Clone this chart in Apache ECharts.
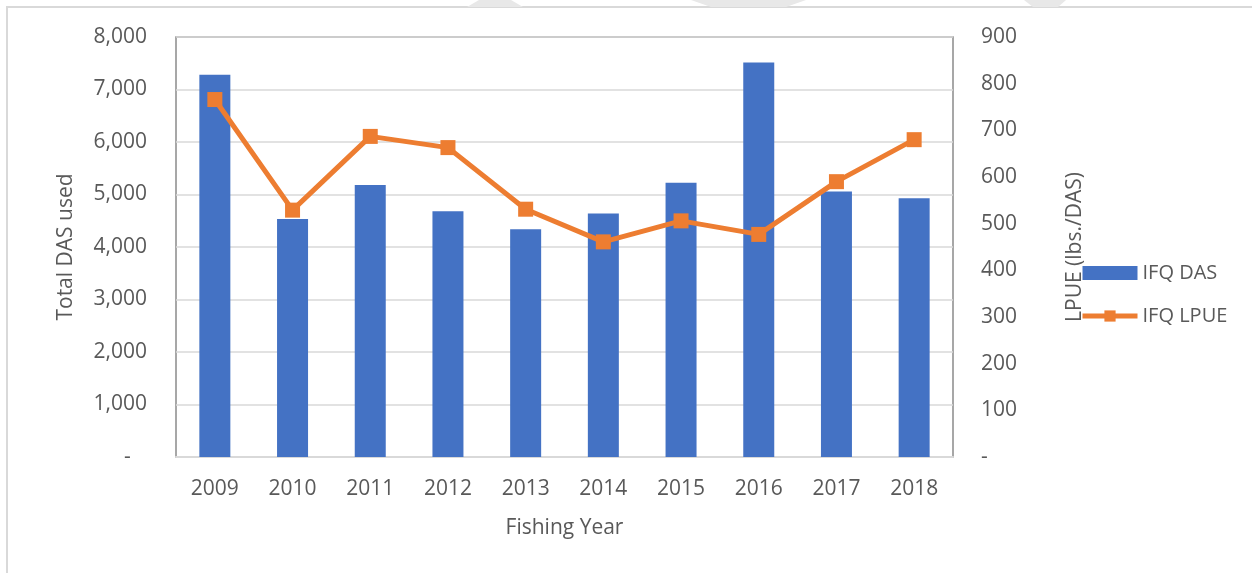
<!DOCTYPE html>
<html>
<head>
<meta charset="utf-8">
<script src="https://cdn.jsdelivr.net/npm/echarts@6/dist/echarts.min.js"></script>
<style>
  html, body { margin: 0; padding: 0; background: #fff; }
  #main { width: 1252px; height: 573px; }
</style>
</head>
<body>
<div id="main"></div>
<script>
// fishing years and the two series
var years = ['2009', '2010', '2011', '2012', '2013', '2014', '2015', '2016', '2017', '2018'];
var ifqDas = [7280, 4535, 5180, 4680, 4340, 4640, 5225, 7515, 5055, 4930];
var ifqLpue = [766, 529, 687, 663, 531, 461, 506, 477, 590, 680];

var labelColor = '#595959';
var fontName = '"Open Sans", "Noto Sans", sans-serif';

var chart = echarts.init(document.getElementById('main'));

var option = {
    backgroundColor: '#fff',
    textStyle: {fontFamily: fontName},
    animation: false,
    grid: {left: 176, right: 299, top: 37, bottom: 116, show: true, borderColor: '#8a8a8a', borderWidth: 1.5},
    legend: {
        orient: 'vertical', left: 1080, top: 263, itemGap: 23, padding: 0,
        itemWidth: 55, itemHeight: 14,
        textStyle: {color: labelColor, fontSize: 20, fontFamily: fontName},
        data: [
            {name: 'IFQ DAS', icon: 'rect'},
            {name: 'IFQ LPUE', lineStyle: {width: 5}}
        ]
    },
    xAxis: {
        type: 'category', data: years,
        name: 'Fishing Year', nameLocation: 'middle', nameGap: 61, nameMoveOverlap: false,
        nameTextStyle: {color: labelColor, fontSize: 21},
        axisLine: {lineStyle: {color: '#d9d9d9', width: 2}},
        axisTick: {show: false},
        axisLabel: {color: labelColor, fontSize: 21, margin: 22}
    },
    yAxis: [{
        type: 'value', min: 0, max: 8000, interval: 1000,
        name: 'Total DAS used', nameLocation: 'middle', nameGap: 99, nameMoveOverlap: false,
        nameTextStyle: {color: labelColor, fontSize: 21},
        axisLine: {show: false}, axisTick: {show: false},
        axisLabel: {
            color: labelColor, fontSize: 21, margin: 29,
            formatter: function (v) { return v === 0 ? '-   ' : v.toLocaleString('en-US'); }
        },
        splitLine: {lineStyle: {color: '#d9d9d9', width: 1.5}}
    }, {
        type: 'value', min: 0, max: 900, interval: 100,
        name: 'LPUE (lbs./DAS)', nameLocation: 'middle', nameGap: 112, nameMoveOverlap: false,
        nameTextStyle: {color: labelColor, fontSize: 21},
        axisLine: {show: false}, axisTick: {show: false},
        axisLabel: {
            color: labelColor, fontSize: 21, margin: 28,
            formatter: function (v) { return v === 0 ? '-' : String(v); }
        },
        splitLine: {show: false}
    }],
    series: [{
        name: 'IFQ DAS', type: 'bar', yAxisIndex: 0, barWidth: 31,
        itemStyle: {color: '#4472c4'},
        data: ifqDas
    }, {
        name: 'IFQ LPUE', type: 'line', yAxisIndex: 1,
        symbol: 'rect', symbolSize: 15,
        lineStyle: {color: '#ed7d31', width: 5},
        itemStyle: {color: '#ed7d31'},
        data: ifqLpue, z: 5
    }],
    graphic: [
        // outer frame of the pasted figure
        {type: 'rect', shape: {x: 7, y: 7, width: 1300, height: 700}, style: {fill: 'none', stroke: '#d9d9d9', lineWidth: 2}, silent: true},
        // faint watermark pieces above the frame
        {type: 'polygon', shape: {points: [[479, 0], [511, 0], [523, 7], [467, 7]]}, style: {fill: '#e8e8e8'}, silent: true},
        {type: 'polygon', shape: {points: [[691, 0], [806, 0], [786, 7], [711, 7]]}, style: {fill: '#e8e8e8'}, silent: true},
        {type: 'polygon', shape: {points: [[1024, 0], [1066, 0], [1058, 7], [1033, 7]]}, style: {fill: '#e8e8e8'}, silent: true}
    ]
};

chart.setOption(option);
</script>
</body>
</html>
